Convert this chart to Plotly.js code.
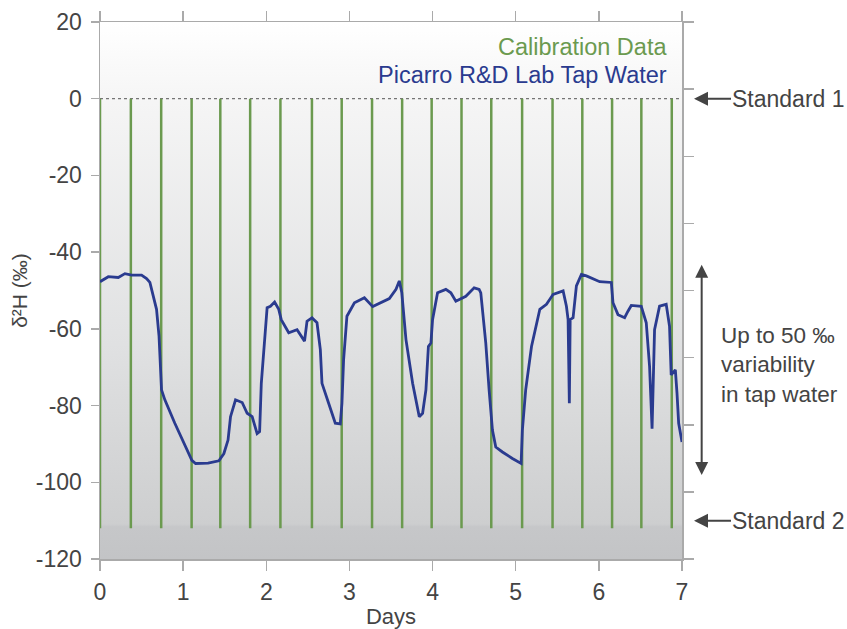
<!DOCTYPE html>
<html>
<head>
<meta charset="utf-8">
<script src="https://cdn.plot.ly/plotly-3.0.1.min.js"></script>
<style>html,body{margin:0;padding:0;background:#fff;}#chart{width:847px;height:629px;}</style>
</head>
<body>
<div id="chart"></div>
<script>
// Calibration injections (days) – each spans Standard 1 to Standard 2
const calibDays = [0, 0.371, 0.736, 1.102, 1.447, 1.806, 2.170, 2.549, 2.907, 3.272,
                   3.634, 3.989, 4.348, 4.706, 5.077, 5.443, 5.801, 6.159, 6.511, 6.877];
const standard1 = 0;
const standard2 = -112;

// Tap water δ2H trace
const tapDays = [0.0,0.10,0.22,0.30,0.38,0.50,0.56,0.60,0.68,0.71,0.74,0.78,0.90,1.03,1.105,1.15,1.30,1.43,1.49,1.54,
  1.57,1.63,1.71,1.77,1.83,1.89,1.92,1.94,1.96,2.01,2.05,2.10,2.15,2.18,2.27,2.37,2.46,2.49,2.55,2.61,
  2.65,2.67,2.75,2.83,2.89,2.91,2.93,2.97,3.06,3.18,3.28,3.36,3.48,3.56,3.60,3.63,3.68,3.76,3.84,3.88,
  3.92,3.95,3.98,4.00,4.06,4.16,4.22,4.28,4.40,4.50,4.56,4.58,4.64,4.68,4.72,4.76,4.84,4.96,5.065,5.08,
  5.12,5.19,5.29,5.37,5.45,5.57,5.61,5.63,5.645,5.655,5.69,5.73,5.79,5.85,6.01,6.15,6.17,6.23,6.31,6.35,
  6.39,6.51,6.57,6.61,6.64,6.67,6.73,6.81,6.85,6.87,6.92,6.94,6.96,7.0];
const tapVals = [-47.7,-46.4,-46.6,-45.6,-46.0,-46.0,-46.9,-47.9,-54.9,-61.9,-75.9,-78.5,-84.6,-90.8,-94.3,-95.1,-95.0,-94.4,-92.5,-89.0,
  -82.9,-78.5,-79.2,-82.0,-82.9,-87.3,-86.8,-74.2,-68.0,-54.5,-54.1,-53.0,-54.9,-57.6,-61.0,-60.2,-63.2,-58.0,-57.1,-58.4,
  -65.4,-74.2,-79.4,-84.6,-84.8,-79.4,-68.0,-56.7,-53.2,-51.9,-54.2,-53.4,-52.1,-49.7,-47.5,-50.6,-62.8,-74.2,-82.9,-82.0,
  -75.9,-64.6,-63.7,-57.6,-50.6,-49.7,-50.6,-52.8,-51.5,-49.3,-49.7,-50.6,-63.7,-75.9,-86.4,-90.8,-92.1,-93.8,-95.1,-86.4,
  -75.9,-64.6,-54.9,-53.6,-51.0,-50.1,-54.1,-57.6,-79.4,-57.6,-57.1,-48.8,-45.8,-46.2,-47.7,-47.9,-53.2,-56.3,-57.1,-55.4,
  -53.9,-54.1,-58.4,-69.8,-86.0,-60.2,-54.1,-53.6,-59.3,-72.0,-70.7,-76.8,-84.6,-89.5];

const xTicks = [0,1,2,3,4,5,6,7];
const yTicks = [20,0,-20,-40,-60,-80,-100,-120];

// build calibration segments
const calX = [], calY = [];
calibDays.forEach(d => { calX.push(d, d, null); calY.push(standard1, standard2, null); });

const green = '#6b9a4f';
const navy = '#2a3b8f';
const grey = '#444444';
const axisCol = '#aaaaaa';

const traces = [
  {x: calX, y: calY, type: 'scatter', mode: 'lines', line: {color: green, width: 2.5}, hoverinfo: 'skip', showlegend: false},
  {x: tapDays, y: tapVals, type: 'scatter', mode: 'lines', line: {color: navy, width: 2.8}, showlegend: false},
  {x: [0], y: [0], yaxis: 'y2', type: 'scatter', mode: 'markers', marker: {opacity: 0}, hoverinfo: 'skip', showlegend: false}
];

const gradSvg = '<svg xmlns="http://www.w3.org/2000/svg" width="100" height="1000" preserveAspectRatio="none">' +
  '<defs><linearGradient id="g" x1="0" y1="0" x2="0" y2="1">' +
  '<stop offset="0" stop-color="#ffffff"/><stop offset="0.15" stop-color="#f5f5f5"/>' +
  '<stop offset="0.6" stop-color="#e0e1e2"/><stop offset="0.935" stop-color="#cdcecf"/>' +
  '<stop offset="0.94" stop-color="#c6c7c9"/><stop offset="1" stop-color="#c3c4c6"/>' +
  '</linearGradient></defs><rect width="100" height="1000" fill="url(#g)"/></svg>';
const gradUri = 'data:image/svg+xml;base64,' + btoa(gradSvg);

const fontFam = '"Liberation Sans", Arial, Helvetica, sans-serif';

const layout = {
  width: 847, height: 629,
  margin: {l: 100, r: 165, t: 22, b: 70},
  paper_bgcolor: '#ffffff',
  plot_bgcolor: 'rgba(0,0,0,0)',
  font: {family: fontFam, size: 23, color: grey},
  showlegend: false,
  xaxis: {
    range: [0, 7], tickvals: xTicks, ticktext: xTicks.map(String),
    showgrid: false, zeroline: false, showline: true, linecolor: axisCol, linewidth: 1.5,
    mirror: 'ticks', ticks: 'outside', ticklen: 10, tickcolor: axisCol, tickwidth: 1.5,
    ticklabelstandoff: 2,
    tickfont: {size: 23, color: grey},
    title: {text: 'Days', font: {size: 22, color: grey}, standoff: 4}
  },
  yaxis: {
    range: [-120, 20], tickvals: yTicks, ticktext: yTicks.map(String),
    showgrid: false, zeroline: false, showline: true, linecolor: axisCol, linewidth: 1.5,
    ticks: 'outside', ticklen: 8, tickcolor: axisCol, tickwidth: 1.5,
    ticklabelstandoff: 4,
    tickfont: {size: 23, color: grey},
    title: {text: 'δ²H (‰)', font: {size: 21, color: grey}, standoff: 2}
  },
  yaxis2: {
    overlaying: 'y', side: 'right', range: [0, 8], dtick: 1,
    showgrid: false, zeroline: false, showline: true, linecolor: axisCol, linewidth: 1.5,
    ticks: 'outside', ticklen: 10, tickcolor: axisCol, tickwidth: 1.5,
    showticklabels: false
  },
  images: [{source: gradUri, xref: 'paper', yref: 'paper', x: 0, y: 1, sizex: 1, sizey: 1,
            sizing: 'stretch', xanchor: 'left', yanchor: 'top', layer: 'below'}],
  shapes: [
    {type: 'line', xref: 'paper', yref: 'y', x0: 0, x1: 1, y0: standard1, y1: standard1,
     line: {color: '#555555', width: 1, dash: 'dot'}, layer: 'below'}
  ],
  annotations: [
    {xref: 'paper', yref: 'paper', x: 0.977, y: 0.953, xanchor: 'right', yanchor: 'middle', align: 'right',
     text: 'Calibration Data', showarrow: false, font: {size: 23.5, color: green}},
    {xref: 'paper', yref: 'paper', x: 0.977, y: 0.901, xanchor: 'right', yanchor: 'middle', align: 'right',
     text: 'Picarro R&D Lab Tap Water', showarrow: false, font: {size: 23.5, color: navy}},
    {xref: 'paper', yref: 'y', x: 1.0206, y: standard1, text: 'Standard 1', showarrow: true,
     ax: 95, ay: 0, arrowhead: 2, arrowsize: 1.4, arrowwidth: 2, arrowcolor: grey, standoff: 0,
     font: {size: 23, color: grey}},
    {xref: 'paper', yref: 'y', x: 1.0206, y: -110, text: 'Standard 2', showarrow: true,
     ax: 95, ay: 0, arrowhead: 2, arrowsize: 1.4, arrowwidth: 2, arrowcolor: grey, standoff: 0,
     font: {size: 23, color: grey}},
    {xref: 'paper', yref: 'y', x: 1.0338, y: -43.3, ayref: 'y', ay: -98.5, axref: 'pixel', ax: 0,
     text: '', showarrow: true, arrowside: 'end+start', arrowhead: 2, arrowsize: 1.3, arrowwidth: 2, arrowcolor: grey},
    {xref: 'paper', yref: 'y', x: 1.063, y: -69.5, xanchor: 'left', yanchor: 'middle', align: 'left',
     text: 'Up to 50 ‰<br>variability<br>in tap water', showarrow: false, font: {size: 22.5, color: grey}}
  ]
};

Plotly.newPlot('chart', traces, layout, {displayModeBar: false, staticPlot: true});
</script>
</body>
</html>
